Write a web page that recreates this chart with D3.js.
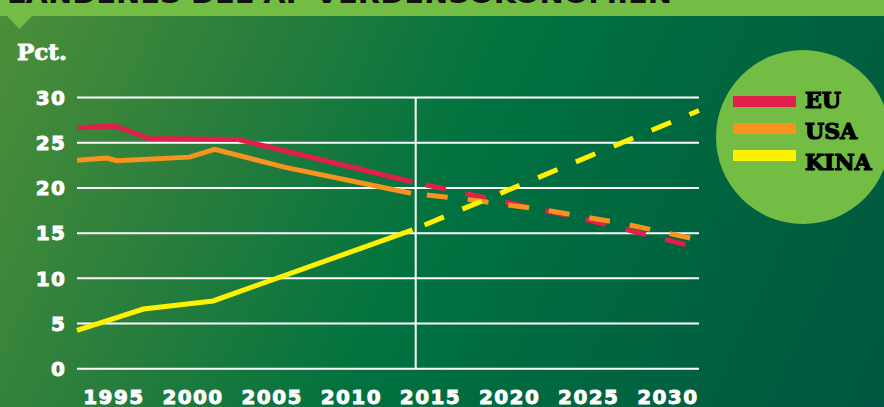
<!DOCTYPE html>
<html>
<head>
<meta charset="utf-8">
<script src="https://cdn.jsdelivr.net/npm/d3@7"></script>
<style>
  html, body { margin: 0; padding: 0; background: #00663f; }
  svg { display: block; }
</style>
</head>
<body>
<div id="chart"></div>
<script>
// series: solid = historical, dashed = forecast
const euHist = [[1992.7, 26.6], [1995.1, 26.8], [1997.25, 25.4], [2002.9, 25.3], [2013.9, 20.6]];
const euProg = [[2013.9, 20.6], [2020, 18.3], [2025, 16.4], [2032, 13.3]];
const usaHist = [[1992.7, 23.0], [1994.6, 23.25], [1995.2, 22.95], [1999.8, 23.35], [2001.4, 24.2], [2005.8, 22.25], [2013.8, 19.35]];
const usaProg = [[2013.8, 19.35], [2017.3, 18.7], [2022.3, 17.5], [2027.2, 16.0], [2032, 14.2]];
const kinaHist = [[1992.7, 4.2], [1996.9, 6.55], [2001.3, 7.45], [2013.9, 15.3]];
const kinaProg = [[2013.9, 15.3], [2032, 28.5]];

const yTicks = [0, 5, 10, 15, 20, 25, 30];
const yearTicks = [1995, 2000, 2005, 2010, 2015, 2020, 2025, 2030];
const legendNames = ["EU", "USA", "KINA"];
const colors = { EU: "#e01f4b", USA: "#f7931e", KINA: "#fff200" };
const splitYear = 2014.1;

const W = 884, H = 407;

const svg = d3.select("#chart").append("svg")
  .attr("width", W)
  .attr("height", H);

const defs = svg.append("defs");
const grad = defs.append("linearGradient")
  .attr("id", "bg")
  .attr("gradientUnits", "userSpaceOnUse")
  .attr("x1", 0).attr("y1", 0).attr("x2", W).attr("y2", H);
grad.append("stop").attr("offset", "0%").attr("stop-color", "#4d8f39");
grad.append("stop").attr("offset", "25%").attr("stop-color", "#2a7e3c");
grad.append("stop").attr("offset", "50%").attr("stop-color", "#00723f");
grad.append("stop").attr("offset", "100%").attr("stop-color", "#005640");

svg.append("rect").attr("width", W).attr("height", H).attr("fill", "url(#bg)");

// top banner with the (cut off) title
svg.append("rect").attr("x", 0).attr("y", 0).attr("width", W).attr("height", 16).attr("fill", "#73bd45");
svg.append("path").attr("d", "M7,16 L32,16 L19.5,29 Z").attr("fill", "#73bd45");
svg.append("text")
  .text("LANDENES DEL AF VERDENSOKONOMIEN")
  .attr("x", 7).attr("y", 2.5)
  .attr("textLength", 665).attr("lengthAdjust", "spacingAndGlyphs")
  .attr("font-family", "DejaVu Sans").attr("font-weight", "bold").attr("font-size", 24)
  .attr("fill", "#111");

const x = d3.scaleLinear().domain([1992.7, 2032]).range([77, 699]);
const y = d3.scaleLinear().domain([0, 30]).range([368.3, 97]);

// y grid + labels
const yAxis = svg.append("g")
  .attr("transform", "translate(" + x.range()[0] + ",0)")
  .call(d3.axisLeft(y)
    .tickValues(yTicks)
    .tickSizeInner(-(x.range()[1] - x.range()[0]))
    .tickSizeOuter(0)
    .tickPadding(11));
yAxis.select(".domain").remove();
yAxis.selectAll("line").attr("stroke", "#fff").attr("stroke-width", 2);
yAxis.selectAll("text")
  .attr("fill", "#fff")
  .attr("stroke", "#fff").attr("stroke-width", 0.9)
  .attr("font-family", "DejaVu Sans").attr("font-weight", "bold")
  .attr("font-size", 20).attr("letter-spacing", 1.2)
  .attr("dy", "0.36em");

// vertical split line (history / forecast)
svg.append("line")
  .attr("x1", x(splitYear)).attr("x2", x(splitYear))
  .attr("y1", y(30)).attr("y2", y(0))
  .attr("stroke", "#fff").attr("stroke-width", 2);

// x labels
const xAxis = svg.append("g")
  .attr("transform", "translate(0," + y(0) + ")")
  .call(d3.axisBottom(x).tickValues(yearTicks).tickSize(0).tickFormat(d3.format("d")));
xAxis.select(".domain").remove();
xAxis.selectAll("text")
  .attr("y", 36).attr("dy", 0)
  .attr("fill", "#fff")
  .attr("stroke", "#fff").attr("stroke-width", 0.9)
  .attr("font-family", "DejaVu Sans").attr("font-weight", "bold")
  .attr("font-size", 20).attr("letter-spacing", 1.4);

// lines
const line = d3.line().x(d => x(d[0])).y(d => y(d[1]));

const series = [
  { name: "EU", hist: euHist, prog: euProg, off: 28 },
  { name: "USA", hist: usaHist, prog: usaProg, off: 25 },
  { name: "KINA", hist: kinaHist, prog: kinaProg, off: 28 }
];

const lines = svg.append("g").attr("fill", "none").attr("stroke-width", 5);
series.forEach(s => {
  lines.append("path").attr("d", line(s.hist)).attr("stroke", colors[s.name]);
  lines.append("path").attr("d", line(s.prog)).attr("stroke", colors[s.name])
    .attr("stroke-dasharray", "21,20").attr("stroke-dashoffset", s.off);
});

// y unit
svg.append("text")
  .text("Pct.")
  .attr("x", 17).attr("y", 60)
  .attr("textLength", 50).attr("lengthAdjust", "spacingAndGlyphs")
  .attr("font-family", "DejaVu Serif").attr("font-weight", "bold").attr("font-size", 22)
  .attr("fill", "#fff").attr("stroke", "#fff").attr("stroke-width", 0.8);

// legend in circle
const legend = svg.append("g");
legend.append("circle").attr("cx", 803).attr("cy", 137).attr("r", 87).attr("fill", "#73bd45");
const swatchY = d3.scalePoint().domain(legendNames).range([96, 150]);
const textY = d3.scalePoint().domain(legendNames).range([108, 170]);
legend.selectAll("rect.sw")
  .data(legendNames)
  .enter()
  .append("rect")
  .attr("class", "sw")
  .attr("x", 733).attr("width", 63)
  .attr("y", d => swatchY(d)).attr("height", 11)
  .attr("fill", d => colors[d]);
legend.selectAll("text")
  .data(legendNames)
  .enter()
  .append("text")
  .text(d => d)
  .attr("x", 805)
  .attr("y", d => textY(d))
  .attr("font-family", "DejaVu Serif").attr("font-weight", "bold").attr("font-size", 22)
  .attr("fill", "#000").attr("stroke", "#000").attr("stroke-width", 1.2);
</script>
</body>
</html>
